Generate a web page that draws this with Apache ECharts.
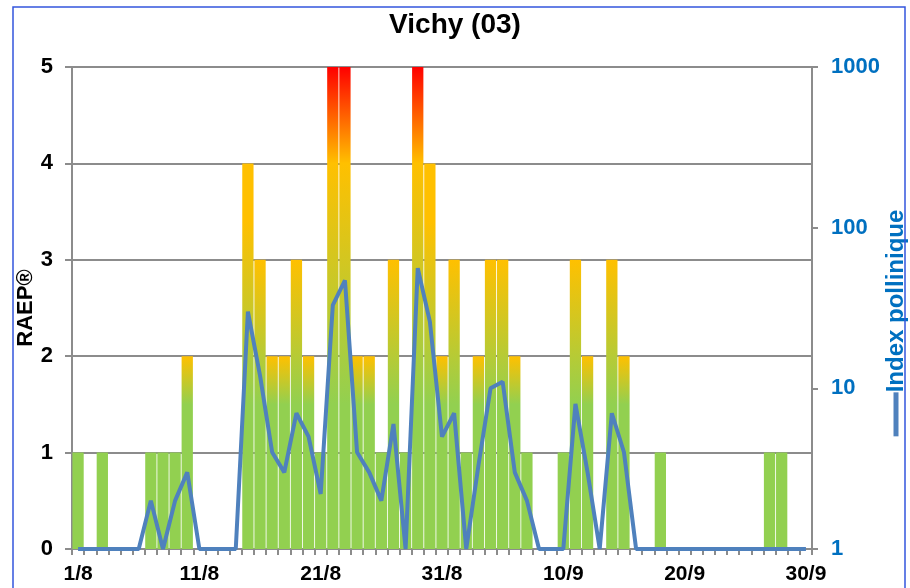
<!DOCTYPE html>
<html>
<head>
<meta charset="utf-8">
<script src="https://cdn.jsdelivr.net/npm/echarts@6/dist/echarts.min.js"></script>
<style>
html,body{margin:0;padding:0;background:#fff;overflow:hidden;}
#chart{width:910px;height:588px;}
</style>
</head>
<body>
<div id="chart"></div>
<script>
// Categories: days 1/8 .. 31/8, 1/9 .. 30/9
var categories = [];
for (var d = 1; d <= 31; d++) categories.push(d + '/8');
for (var d2 = 1; d2 <= 30; d2++) categories.push(d2 + '/9');

// RAEP risk values (left axis)
var raepValues = [
  1,0,1,0,0,0,1,1,1,2,
  0,0,0,0,4,3,2,2,3,2,
  1,5,5,2,2,1,3,1,5,4,
  2,3,1,2,3,3,2,1,0,0,
  1,3,2,0,3,2,0,0,1,0,
  0,0,0,0,0,0,0,1,1,0,
  0
];

// Pollen index (right log axis)
var pollenIndex = [
  1,1,1,1,1,1,2,1,2,3,
  1,1,1,1,30,12,4,3,7,5,
  2.2,33,47,4,3,2,6,1,56,26,
  5,7,1,3.3,10,11,3,2,1,1,
  1,8,3,1,7,4,1,1,1,1,
  1,1,1,1,1,1,1,1,1,1,
  1
];

var leftTicks = [0, 1, 2, 3, 4, 5];
var rightTicks = [1, 10, 100, 1000];

var GREEN = '#92D050', ORANGE = '#FFC000', RED = '#FF0000';

function barStyle(v) {
  if (v <= 1) return { color: GREEN };
  var stops;
  if (v >= 5) {
    stops = [
      { offset: 0, color: GREEN },
      { offset: 1.5 / v, color: GREEN },
      { offset: 0.8, color: ORANGE },
      { offset: 1, color: RED }
    ];
  } else {
    var top = Math.min(v, 3.4) / v;
    stops = [
      { offset: 0, color: GREEN },
      { offset: 1.5 / v, color: GREEN },
      { offset: top, color: ORANGE },
      { offset: 1, color: ORANGE }
    ];
  }
  return { color: new echarts.graphic.LinearGradient(0, 1, 0, 0, stops) };
}

var barData = raepValues.map(function (v) {
  return { value: v, itemStyle: barStyle(v) };
});

var chart = echarts.init(document.getElementById('chart'), null, { renderer: 'canvas' });
var FONT = 'Liberation Sans';
var GRAY = '#8c8c8c';

chart.setOption({
  animation: false,
  backgroundColor: '#ffffff',
  title: {
    text: 'Vichy (03)',
    left: 'center',
    top: 6,
    textStyle: { fontFamily: FONT, fontWeight: 'bold', fontSize: 28, color: '#000' }
  },
  graphic: [{
    type: 'rect',
    shape: { x: 13, y: 7, width: 892, height: 600 },
    style: { fill: 'none', stroke: '#3355dd', lineWidth: 1.5 },
    silent: true,
    z: 100
  }],
  grid: { left: 72, right: 98, top: 67, bottom: 39, containLabel: false, outerBoundsMode: 'none' },
  xAxis: {
    type: 'category',
    data: categories,
    boundaryGap: true,
    axisLine: { lineStyle: { color: GRAY, width: 2 } },
    axisTick: { show: true, interval: 0, length: 6, lineStyle: { color: GRAY, width: 2 } },
    axisLabel: {
      interval: 9,
      margin: 15,
      fontFamily: FONT, fontWeight: 'bold', fontSize: 21, color: '#000'
    },
    splitLine: { show: false }
  },
  yAxis: [{
    type: 'value',
    min: leftTicks[0],
    max: leftTicks[leftTicks.length - 1],
    interval: 1,
    name: 'RAEP®',
    nameLocation: 'middle',
    nameRotate: 90,
    nameGap: 35,
    nameMoveOverlap: false,
    nameTextStyle: { fontFamily: FONT, fontWeight: 'bold', fontSize: 22, color: '#000' },
    axisLine: { show: true, lineStyle: { color: GRAY, width: 2 } },
    axisTick: { show: true, length: 7, lineStyle: { color: GRAY, width: 2 } },
    axisLabel: { margin: 19, fontFamily: FONT, fontWeight: 'bold', fontSize: 22, color: '#000' },
    splitLine: { show: true, lineStyle: { color: GRAY, width: 2 } }
  }, {
    type: 'log',
    logBase: 10,
    min: rightTicks[0],
    max: rightTicks[rightTicks.length - 1],
    position: 'right',
    name: '{l|}{t|Index pollinique}{s|}',
    nameLocation: 'middle',
    nameRotate: 90,
    nameGap: 72,
    nameMoveOverlap: false,
    nameTextStyle: {
      rich: {
        l: { width: 44, height: 5, backgroundColor: '#4F81BD' },
        t: { fontFamily: FONT, fontWeight: 'bold', fontSize: 24, color: '#0070C0' },
        s: { width: 30, height: 5 }
      }
    },
    axisLine: { show: true, lineStyle: { color: GRAY, width: 2 } },
    axisTick: { show: true, length: 6, lineStyle: { color: GRAY, width: 2 } },
    axisLabel: {
      margin: 19, fontFamily: FONT, fontWeight: 'bold', fontSize: 22, color: '#0070C0',
      formatter: function (v) { return String(Math.round(v)); }
    },
    splitLine: { show: false }
  }],
  series: [{
    name: 'RAEP',
    type: 'bar',
    data: barData,
    barCategoryGap: '7%',
    yAxisIndex: 0,
    z: 2
  }, {
    name: 'Index pollinique',
    type: 'line',
    data: pollenIndex,
    yAxisIndex: 1,
    symbol: 'none',
    lineStyle: { color: '#4F81BD', width: 4 },
    itemStyle: { color: '#4F81BD' },
    z: 3
  }]
});
</script>
</body>
</html>
